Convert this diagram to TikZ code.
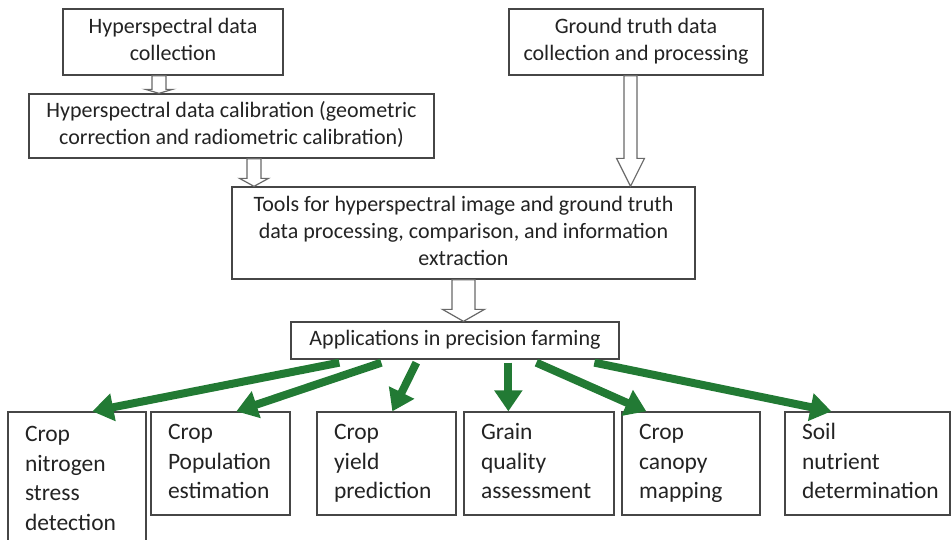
\documentclass[tikz,border=0pt]{standalone}
\usepackage{fontspec}
\setmainfont{Carlito}
\usetikzlibrary{arrows.meta,calc}
\definecolor{arrgreen}{RGB}{34,122,52}
\definecolor{boxline}{RGB}{70,70,70}
\definecolor{hollowline}{RGB}{105,105,105}
\definecolor{txt}{RGB}{35,35,35}
\newcommand\hollowarrow[5]{\draw[hollow] let \p1=#1, \p2=#2 in (\x1-#3,\y1) -- (\x1+#3,\y1) -- (\x1+#3,\y2+#5) -- (\x1+#4,\y2+#5) -- (\x1,\y2) -- (\x1-#4,\y2+#5) -- (\x1-#3,\y2+#5) -- cycle;}
\begin{document}
\begin{tikzpicture}[x=1pt,y=-1pt,
 box/.style={draw=boxline, line width=1.3pt, fill=white, inner sep=0pt, align=center, text=txt, font=\fontsize{22}{27}\selectfont},
 appbox/.style={draw=boxline, line width=1.3pt, inner xsep=17pt, inner ysep=0pt, align=left, text=txt, font=\fontsize{23.5}{29.5}\selectfont},
 hollow/.style={draw=hollowline, line width=1.2pt, fill=white, line join=miter},
 garrow/.style={draw=arrgreen, line width=8pt, -{Triangle[length=21pt,width=27pt]}}]
\useasboundingbox (0,0) rectangle (952,539);
\clip (0,0) rectangle (952,539);
\node[box, minimum width=220pt, minimum height=66pt] (b1) at (173,42) {\strut Hyperspectral data\\collection\strut};
\node[box, minimum width=405pt, minimum height=64pt] (b2) at (231.5,126) {\strut Hyperspectral data calibration (geometric\\correction and radiometric calibration)\strut};
\node[box, minimum width=254pt, minimum height=66pt] (b3) at (636,42) {\strut Ground truth data\\collection and processing\strut};
\node[box, minimum width=463pt, minimum height=92pt] (b4) at (463.5,233) {\strut Tools for hyperspectral image and ground truth\\data processing, comparison, and information\\extraction\strut};
\node[box, minimum width=328pt, minimum height=37pt] (b5) at (455,340.5) {\strut Applications in precision farming\strut};
\node[appbox, text width=104pt, minimum height=136pt] (cA) at (77,480) {\strut Crop\\nitrogen\\stress\\detection\strut};
\node[appbox, text width=105pt, minimum height=103pt] (cB) at (220.5,463.5) {\strut Crop\\Population\\estimation\strut};
\node[appbox, text width=105pt, minimum height=103pt] (cC) at (386.5,463.5) {\strut Crop\\yield\\prediction\strut};
\node[appbox, text width=116pt, minimum height=103pt] (cD) at (539,463.5) {\strut Grain\\quality\\assessment\strut};
\node[appbox, text width=104pt, minimum height=103pt] (cE) at (691,463.5) {\strut Crop\\canopy\\mapping\strut};
\node[appbox, text width=131pt, minimum height=103pt] (cF) at (867.5,463.5) {\strut Soil\\nutrient\\determination\strut};
\hollowarrow{(159,0 |- b1.south)}{(159,0 |- b2.north)}{7pt}{13.5pt}{4pt}
\hollowarrow{(254,0 |- b2.south)}{(254,0 |- b4.north)}{7pt}{14.5pt}{8pt}
\hollowarrow{(630.5,0 |- b3.south)}{(630.5,0 |- b4.north)}{6.5pt}{14pt}{28pt}
\hollowarrow{(463.5,0 |- b4.south)}{(463.5,0 |- b5.north)}{11.5pt}{21pt}{12pt}
\draw[garrow] ([xshift=49pt,yshift=-3pt]b5.south west) -- ([xshift=85pt]cA.north west);
\draw[garrow] ([xshift=91pt,yshift=-3pt]b5.south west) -- ([xshift=86pt]cB.north west);
\draw[garrow] ([xshift=126pt,yshift=-3pt]b5.south west) -- ([xshift=76pt]cC.north west);
\draw[garrow] ([xshift=218pt,yshift=-3pt]b5.south west) -- ([xshift=45pt]cD.north west);
\draw[garrow] ([xshift=246pt,yshift=-3pt]b5.south west) -- ([xshift=25pt]cE.north west);
\draw[garrow] ([xshift=304pt,yshift=-3pt]b5.south west) -- ([xshift=47pt]cF.north west);
\end{tikzpicture}
\end{document}
